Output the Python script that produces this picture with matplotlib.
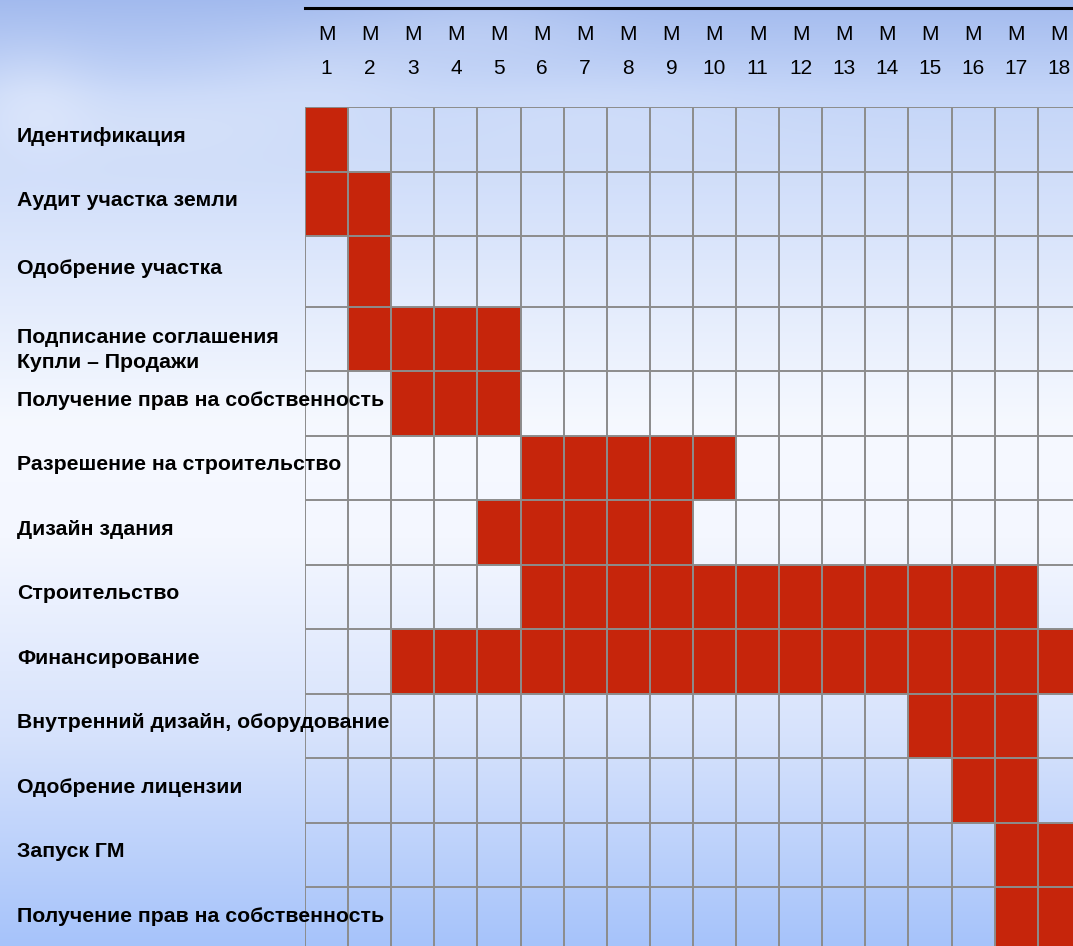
import numpy as np
import matplotlib
matplotlib.use("Agg")
import matplotlib.pyplot as plt
from matplotlib.transforms import blended_transform_factory

plt.rcParams['font.family'] = ['Liberation Sans', 'DejaVu Sans']

# project schedule: task name, first month, last month (inclusive)
tasks = [
    "Идентификация",
    "Аудит участка земли",
    "Одобрение участка",
    "Подписание соглашения\nКупли – Продажи",
    "Получение прав на собственность",
    "Разрешение на строительство",
    "Дизайн здания",
    "Строительство",
    "Финансирование",
    "Внутренний дизайн, оборудование",
    "Одобрение лицензии",
    "Запуск ГМ",
    "Получение прав на собственность",
]
start_month = [1, 1, 2, 2, 3, 6, 5, 6, 3, 15, 16, 17, 17]
end_month = [1, 2, 2, 5, 5, 10, 9, 17, 18, 17, 17, 18, 18]
months = [str(m) for m in range(1, 19)]

# relative row heights (third row is a little taller)
row_h = np.array([1, 1, 1.1, 1, 1, 1, 1, 1, 1, 1, 1, 1, 1], dtype=float)
edges = np.concatenate([[0], np.cumsum(row_h)])
centers = (edges[:-1] + edges[1:]) / 2

W, H = 1073, 946
fig = plt.figure(figsize=(W / 100, H / 100), dpi=100)

# sky background
bg_ax = fig.add_axes([0, 0, 1, 1], zorder=-10)
yy = np.linspace(0, 1, H)[:, None]
xx = np.linspace(0, 1, W)[None, :]
stops = [0.0, 0.1, 0.45, 0.57, 0.78, 1.0]
cols = np.array([
    [162, 186, 238],
    [196, 213, 248],
    [246, 249, 255],
    [244, 247, 255],
    [214, 226, 252],
    [166, 195, 250],
]) / 255.0
grad = np.stack([np.interp(yy[:, 0], stops, cols[:, c]) for c in range(3)], axis=1)
img = np.repeat(grad[:, None, :], W, axis=1)
# a few soft clouds near the top
clouds = np.zeros((H, W))
for cx, cy, sx, sy, a in [(0.03, 0.11, 0.04, 0.04, 0.25), (0.15, 0.13, 0.10, 0.03, 0.18),
                           (0.30, 0.08, 0.07, 0.035, 0.15), (0.45, 0.03, 0.08, 0.03, 0.15),
                           (0.55, 0.12, 0.12, 0.03, 0.12)]:
    clouds += a * np.exp(-((xx - cx) ** 2 / (2 * sx ** 2) + (yy - cy) ** 2 / (2 * sy ** 2)))
clouds = np.clip(clouds, 0, 0.5)[:, :, None]
img = img * (1 - clouds) + clouds
bg_ax.imshow(img, aspect='auto', extent=[0, 1, 0, 1])
bg_ax.set_axis_off()

# grid axes (runs past the right and bottom edge)
col_w = 43.1
left, top = 305, 107
px_per_row = 64.5
grid_h = edges[-1] * px_per_row
ax = fig.add_axes([left / W, 1 - (top + grid_h) / H, 18 * col_w / W, grid_h / H])
ax.set_xlim(0, 18)
ax.set_ylim(edges[-1], 0)
ax.set_axis_off()

for i in range(len(tasks)):
    ax.barh(centers[i], end_month[i] - start_month[i] + 1, left=start_month[i] - 1,
            height=row_h[i], color='#C6250B', edgecolor='none', zorder=2)

ax.vlines(np.arange(0, 19), 0, edges[-1], color='#8c8c8c', lw=1.4, zorder=3)
ax.hlines(edges, 0, 18, color='#8c8c8c', lw=1.4, zorder=3)

# task names on the left
tr = blended_transform_factory(fig.transFigure, ax.transData)
for i, name in enumerate(tasks):
    y = centers[i] + (0.17 if "\n" in name else -0.05)
    ax.text(17 / W, y, name, transform=tr, ha='left', va='center',
            fontsize=15.3, fontweight='bold', color='black', zorder=5, linespacing=1.4)

# month header
th = blended_transform_factory(ax.transData, fig.transFigure)
for j, m in enumerate(months):
    ax.text(j + 0.5, 1 - 35 / H, "M", transform=th, ha='center', va='center',
            fontsize=15, clip_on=False)
    ax.text(j + 0.5, 1 - 69 / H, m, transform=th, ha='center', va='center',
            fontsize=15, clip_on=False)
ax.plot([0, 18], [1 - 8 / H, 1 - 8 / H], transform=th, color='black', lw=2.2,
        clip_on=False)

fig.savefig("out.png", dpi=100)
